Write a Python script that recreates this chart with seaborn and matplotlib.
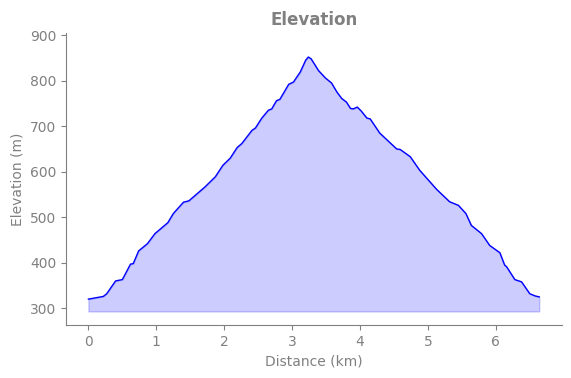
import numpy as np
import pandas as pd
import matplotlib
matplotlib.use('Agg')
import matplotlib.pyplot as plt
import seaborn as sns

distance_km = [0.00, 0.22, 0.27, 0.40, 0.50, 0.62, 0.66, 0.74, 0.87, 0.98,
               1.17, 1.25, 1.40, 1.48, 1.72, 1.87, 1.98, 2.09, 2.19, 2.26,
               2.41, 2.46, 2.55, 2.65, 2.70, 2.77, 2.82, 2.95, 3.02, 3.12,
               3.20, 3.24, 3.28, 3.39, 3.49, 3.58, 3.66, 3.73, 3.80, 3.86,
               3.90, 3.96, 4.02, 4.10, 4.15, 4.29, 4.39, 4.54, 4.59, 4.74,
               4.88, 5.13, 5.32, 5.45, 5.56, 5.64, 5.79, 5.91, 6.06, 6.13,
               6.16, 6.28, 6.38, 6.50, 6.58, 6.64]
elevation_m = [320, 326, 332, 360, 363, 397, 398, 426, 442, 464,
               488, 508, 533, 536, 567, 589, 614, 630, 653, 662,
               691, 696, 717, 735, 738, 756, 759, 792, 797, 819,
               845, 852, 848, 822, 806, 795, 775, 761, 753, 739,
               738, 742, 733, 718, 716, 685, 671, 650, 649, 633,
               603, 561, 534, 526, 508, 482, 464, 438, 422, 395,
               391, 363, 358, 332, 327, 325]
fill_base = 293

df = pd.DataFrame({'Distance (km)': distance_km, 'Elevation (m)': elevation_m})

grey = '#808080'
fig = plt.figure(figsize=(5.71, 3.78), dpi=100)
ax = fig.add_axes([0.1156, 0.140, 0.868, 0.773])

sns.lineplot(data=df, x='Distance (km)', y='Elevation (m)', color='blue', linewidth=1, ax=ax)
ax.fill_between(df['Distance (km)'], df['Elevation (m)'], fill_base, color='blue', alpha=0.2)

ax.set_xlim(-0.33, 6.97)
ax.set_ylim(263, 905)
ax.set_xticks(range(0, 7))
ax.set_yticks(range(300, 901, 100))

sns.despine(ax=ax)
for s in ['left', 'bottom']:
    ax.spines[s].set_color(grey)
ax.tick_params(colors=grey, labelcolor=grey, labelsize=10)
ax.set_xlabel('Distance (km)', color=grey, fontsize=10)
ax.set_ylabel('Elevation (m)', color=grey, fontsize=10)
ax.set_title('Elevation', color=grey, fontsize=12, fontweight='bold')

fig.savefig('out.png', dpi=100)
